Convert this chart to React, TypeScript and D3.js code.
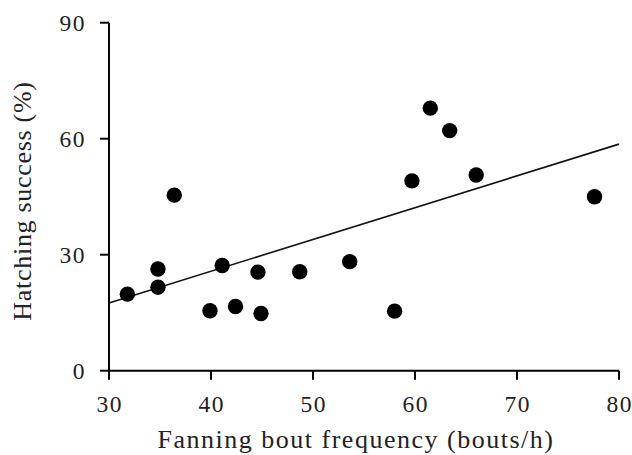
import React from "react";
import * as d3 from "d3";

const fanningRate = [31.8, 34.8, 34.8, 36.4, 39.9, 41.1, 42.4, 44.6, 44.9, 48.7, 53.6, 58.0, 59.7, 61.5, 63.4, 66.0, 77.6];
const hatching = [19.8, 26.3, 21.6, 45.4, 15.5, 27.2, 16.6, 25.5, 14.8, 25.6, 28.2, 15.4, 49.1, 67.9, 62.1, 50.6, 45.0];
const trendX = [30, 80];
const trendY = [17.5, 58.6];
const xTicks = [30, 40, 50, 60, 70, 80];
const yTicks = [0, 30, 60, 90];
const xTitle = "Fanning bout frequency (bouts/h)";
const yTitle = "Hatching success (%)";

export default function App() {
  const W = 632, H = 455;
  const x = d3.scaleLinear().domain([30, 80]).range([109, 619]);
  const y = d3.scaleLinear().domain([0, 90]).range([370.7, 22.7]);
  const line = d3.line<number>().x((d) => x(d)).y((_, i) => y(trendY[i]));
  const font = "'Liberation Serif', 'Times New Roman', serif";
  const txt = "#222";
  return (
    <svg width={W} height={H} style={{ position: "absolute", left: 0, top: 0, background: "#fff" }} fontFamily={font}>
      <rect width={W} height={H} fill="#fff" />
      {/* axes */}
      <line x1={x(30)} x2={x(30)} y1={y(90)} y2={y(0)} stroke="#000" strokeWidth={2} />
      <line x1={x(30)} x2={x(80)} y1={y(0)} y2={y(0)} stroke="#000" strokeWidth={2} />
      {yTicks.map((t) => (
        <g key={"y" + t}>
          <line x1={x(30) - 9} x2={x(30)} y1={y(t)} y2={y(t)} stroke="#000" strokeWidth={2} />
          <text x={86} y={y(t)} dy="0.35em" textAnchor="end" fontSize={23.5} letterSpacing={1.5} fill={txt}>{t}</text>
        </g>
      ))}
      {xTicks.map((t) => (
        <g key={"x" + t}>
          <line x1={x(t)} x2={x(t)} y1={y(0)} y2={y(0) + 9} stroke="#000" strokeWidth={2} />
          <text x={x(t) + 0.75} y={412} textAnchor="middle" fontSize={23.5} letterSpacing={1.5} fill={txt}>{t}</text>
        </g>
      ))}
      <text x={356} y={448} textAnchor="middle" fontSize={26} letterSpacing={1.5} fill={txt}>{xTitle}</text>
      <text transform={`translate(31,201) rotate(-90)`} textAnchor="middle" fontSize={26} letterSpacing={0.7} fill={txt}>{yTitle}</text>
      {/* trend line */}
      <path d={line(trendX) || ""} fill="none" stroke="#111" strokeWidth={1.6} />
      {/* points */}
      {fanningRate.map((v, i) => (
        <circle key={i} cx={x(v)} cy={y(hatching[i])} r={7.7} fill="#000" />
      ))}
    </svg>
  );
}
